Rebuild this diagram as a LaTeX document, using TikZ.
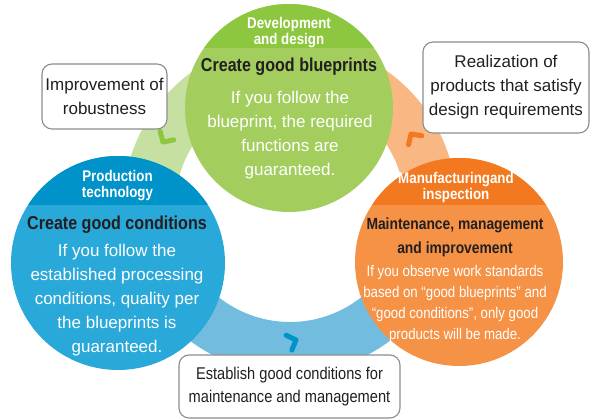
\documentclass[tikz,border=0pt]{standalone}
\usepackage{fontspec}
\setmainfont{Liberation Sans}
\newfontfamily\narrowfont{Liberation Sans}[FakeStretch=0.86]
\usetikzlibrary{positioning, calc}

\definecolor{greenHead}{HTML}{8DC63F}
\definecolor{greenBody}{HTML}{A3CE5E}
\definecolor{ringGreen}{HTML}{C5E0A0}
\definecolor{blueHead}{HTML}{0093C9}
\definecolor{blueBody}{HTML}{29A8DA}
\definecolor{ringBlue}{HTML}{72BCE0}
\definecolor{orangeHead}{HTML}{F37920}
\definecolor{orangeBody}{HTML}{F69246}
\definecolor{ringOrange}{HTML}{F9B784}
\definecolor{titleDark}{HTML}{231F20}
\definecolor{boxGray}{HTML}{8A8C8E}

\tikzset{
	headtext/.style={text=white, align=center, inner sep=0pt, font=\narrowfont\bfseries\fontsize{15.5}{16}\selectfont},
	titletext/.style={text=titleDark, align=center, inner sep=0pt, font=\narrowfont\bfseries\fontsize{18.7}{24}\selectfont},
	bodytext/.style={text=white, align=center, inner sep=0pt, font=\fontsize{17}{24}\selectfont},
	notebox/.style={draw=boxGray, line width=1.1pt, fill=white, rounded corners=10pt, align=center, text=titleDark, inner sep=0pt, font=\fontsize{17}{24}\selectfont},
	stagecircle/.style={circle, inner sep=0pt, outer sep=0pt},
	chevron/.pic={\draw[line width=5pt, line cap=round, line join=round] (-7.5,8) -- (0,0) -- (-7.5,-8);}
}

\begin{document}
\begin{tikzpicture}[x=1pt, y=1pt]
		
		\useasboundingbox (0,0) rectangle (590,419);
		
		%Ring
		\coordinate (ringCenter) at (290,212);
		\fill[ringGreen] ($(ringCenter)+(90:167)$) arc[start angle=90, end angle=200, radius=167] -- ($(ringCenter)+(200:115)$) arc[start angle=200, end angle=90, radius=115] -- cycle;
		\fill[ringBlue] ($(ringCenter)+(200:167)$) arc[start angle=200, end angle=340, radius=167] -- ($(ringCenter)+(340:115)$) arc[start angle=340, end angle=200, radius=115] -- cycle;
		\fill[ringOrange] ($(ringCenter)+(-20:167)$) arc[start angle=-20, end angle=90, radius=167] -- ($(ringCenter)+(90:115)$) arc[start angle=90, end angle=-20, radius=115] -- cycle;
		
		%Chevrons
		\pic[color=greenHead, rotate=238] at (163,277) {chevron};
		\pic[color=blueHead, rotate=21] at (296,79) {chevron};
		\pic[color=orangeHead, rotate=124] at (411,285) {chevron};
		
		%Design circle
		\node (designCircle) at (289,311) [stagecircle, fill=greenBody, minimum size=208pt]{};
		\begin{scope}
			\clip (designCircle.center) circle[radius=104];
			\fill[greenHead] (180,371) rectangle (400,420);
		\end{scope}
		\node (designHead) at (289,386) [headtext]{Development\\and design};
		\node (designTitle) at (289,352) [titletext]{Create good blueprints};
		\node (designBody) at (290,284) [bodytext]{If you follow the\\blueprint, the required\\functions are\\guaranteed.};
		
		%Production circle
		\node (productionCircle) at (118,156) [stagecircle, fill=blueBody, minimum size=214pt]{};
		\begin{scope}
			\clip (productionCircle.center) circle[radius=107];
			\fill[blueHead] (5,214) rectangle (230,270);
		\end{scope}
		\node (productionHead) at (117.5,233.5) [headtext]{Production\\technology};
		\node (productionTitle) at (117,194) [titletext]{Create good conditions};
		\node (productionBody) at (117,119) [bodytext]{If you follow the\\established processing\\conditions, quality per\\the blueprints is\\guaranteed.};
		
		%Manufacturing circle
		\node (manufacturingCircle) at (459,157) [stagecircle, fill=orangeBody, minimum size=208pt]{};
		\begin{scope}
			\clip (manufacturingCircle.center) circle[radius=104];
			\fill[orangeHead] (350,214) rectangle (570,265);
		\end{scope}
		\node (manufacturingHead) at (456,231) [headtext]{Manufacturingand\\inspection};
		\node (manufacturingTitle) at (455,182) [titletext, font=\narrowfont\bfseries\fontsize{16.1}{24}\selectfont]{Maintenance, management\\and improvement};
		\node (manufacturingBody) at (455,114.5) [bodytext, font=\narrowfont\fontsize{15.4}{21}\selectfont]{If you observe work standards\\based on “good blueprints” and\\“good conditions”, only good\\products will be made.};
		
		%Boxes
		\node (robustnessBox) at (104.5,322.5) [notebox, minimum width=125pt, minimum height=65pt]{Improvement of\\robustness};
		\node (realizationBox) at (506,331.5) [notebox, minimum width=166pt, minimum height=91pt]{Realization of\\products that satisfy\\design requirements};
		\node (establishBox) at (289.5,32.5) [notebox, minimum width=221pt, minimum height=63pt, font=\narrowfont\fontsize{17}{23}\selectfont]{Establish good conditions for\\maintenance and management};
		
\end{tikzpicture}
\end{document}
